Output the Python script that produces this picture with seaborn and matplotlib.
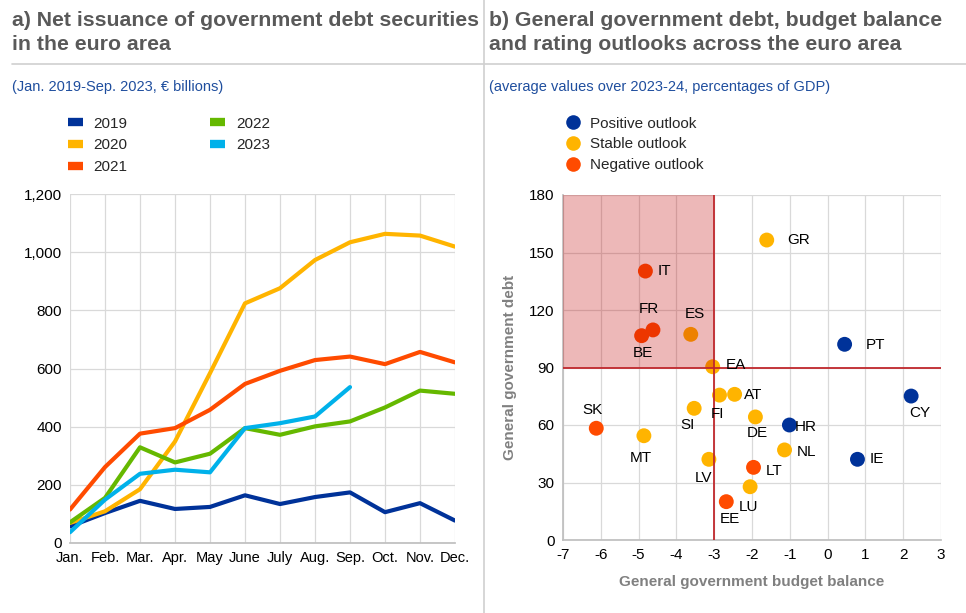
import matplotlib
matplotlib.use('Agg')
import matplotlib.pyplot as plt
import matplotlib.ticker as mticker
from matplotlib.lines import Line2D
import seaborn as sns
import pandas as pd

# --- Panel a data: net issuance, EUR billions ---
months = ['Jan.', 'Feb.', 'Mar.', 'Apr.', 'May', 'June', 'July', 'Aug.', 'Sep.', 'Oct.', 'Nov.', 'Dec.']
issuance_2019 = [57, 103, 145, 117, 124, 164, 134, 158, 174, 106, 137, 77]
issuance_2020 = [69, 109, 185, 349, 584, 824, 876, 973, 1034, 1063, 1057, 1019]
issuance_2021 = [115, 261, 376, 395, 458, 547, 592, 629, 641, 615, 657, 621]
issuance_2022 = [71, 155, 329, 277, 307, 395, 372, 401, 418, 466, 524, 513]
issuance_2023 = [37, 149, 238, 252, 243, 395, 412, 435, 536]

# --- Panel b data: budget balance vs debt, % of GDP ---
countries = ['GR', 'IT', 'FR', 'BE', 'ES', 'EA', 'PT', 'CY', 'HR', 'IE', 'SK',
             'MT', 'SI', 'FI', 'AT', 'DE', 'NL', 'LV', 'LT', 'LU', 'EE']
balance = [-1.61, -4.82, -4.62, -4.92, -3.62, -3.04, 0.45, 2.21, -1.01, 0.79, -6.12,
           -4.86, -3.53, -2.86, -2.46, -1.91, -1.14, -3.14, -1.96, -2.05, -2.68]
debt = [156.5, 140.3, 109.6, 106.6, 107.3, 90.4, 102.1, 75.1, 60.0, 42.1, 58.3,
        54.4, 68.7, 75.6, 76.0, 64.2, 47.0, 42.1, 37.9, 27.8, 20.0]
outlook = ['Stable', 'Negative', 'Negative', 'Negative', 'Stable', 'Stable', 'Positive',
           'Positive', 'Positive', 'Positive', 'Negative', 'Stable', 'Stable', 'Stable',
           'Stable', 'Stable', 'Stable', 'Stable', 'Negative', 'Stable', 'Negative']
# label centre offsets from the dot, in pixels (x right, y up)
label_offsets = {
    'GR': (32, 0), 'IT': (19, 0), 'FR': (-4, 21), 'BE': (1, -17), 'ES': (4, 20),
    'EA': (23, 2), 'PT': (31, -1), 'CY': (9, -17), 'HR': (16, -2), 'IE': (19, 0),
    'SK': (-4, 18), 'MT': (-3, -22), 'SI': (-7, -17), 'FI': (-2, -19), 'AT': (19, -1),
    'DE': (2, -16), 'NL': (22, -2), 'LV': (-5, -19), 'LT': (21, -4), 'LU': (-2, -20),
    'EE': (4, -17),
}

year_colors = {'2019': '#003299', '2020': '#FFB400', '2021': '#FF4B00',
               '2022': '#65B800', '2023': '#00B1EA'}
outlook_colors = {'Positive': '#003299', 'Stable': '#FFB400', 'Negative': '#FF4B00'}

sns.set_theme(style='white')
plt.rcParams['font.family'] = ['Liberation Sans', 'DejaVu Sans']
plt.rcParams['axes.unicode_minus'] = False

rows = []
for year, vals in zip(year_colors, [issuance_2019, issuance_2020, issuance_2021,
                                    issuance_2022, issuance_2023]):
    for i, v in enumerate(vals):
        rows.append({'month': i, 'value': v, 'year': year})
df_a = pd.DataFrame(rows)
df_b = pd.DataFrame({'country': countries, 'balance': balance, 'debt': debt, 'outlook': outlook})

fig = plt.figure(figsize=(9.66, 6.13), dpi=100)

title_color = '#595959'
sub_color = '#1F4E9E'
grid_color = '#D9D9D9'

# headers
fig.text(12 / 966, 1 - 11 / 613, 'a) Net issuance of government debt securities\nin the euro area',
         ha='left', va='top', fontsize=15.3, fontweight='bold', color=title_color, linespacing=1.35)
fig.text(489 / 966, 1 - 11 / 613, 'b) General government debt, budget balance\nand rating outlooks across the euro area',
         ha='left', va='top', fontsize=15.3, fontweight='bold', color=title_color, linespacing=1.35)
fig.text(12 / 966, 1 - 87 / 613, '(Jan. 2019-Sep. 2023, € billions)', ha='left', va='center',
         fontsize=10.5, color=sub_color)
fig.text(489 / 966, 1 - 87 / 613, '(average values over 2023-24, percentages of GDP)', ha='left',
         va='center', fontsize=10.5, color=sub_color)
fig.add_artist(Line2D([12 / 966, 1], [1 - 64 / 613] * 2, color='#D0D0D0', lw=1.2))
fig.add_artist(Line2D([484 / 966] * 2, [0, 1], color='#D0D0D0', lw=1.2))

# --- Panel a ---
ax1 = fig.add_axes([70 / 966, 1 - 543 / 613, 385 / 966, 349 / 613])
sns.lineplot(data=df_a, x='month', y='value', hue='year', palette=year_colors,
             linewidth=3.0, ax=ax1, legend=False)
ax1.set_xlim(0, 11)
ax1.set_ylim(0, 1200)
ax1.set_xticks(range(12))
ax1.set_xticklabels(months)
ax1.set_yticks(range(0, 1201, 200))
ax1.yaxis.set_major_formatter(mticker.FuncFormatter(lambda v, p: f'{int(v):,}'))
ax1.grid(True, color=grid_color, lw=0.9)
ax1.set_xlabel('')
ax1.set_ylabel('')
for s in ax1.spines.values():
    s.set_visible(False)
ax1.spines['bottom'].set_visible(True)
ax1.spines['bottom'].set_color('#BFBFBF')
ax1.tick_params(axis='both', labelsize=11, colors='black', length=0, pad=6)
ax1.tick_params(axis='x', labelsize=10.5)

handles_a = [Line2D([0], [0], color=c, lw=6, solid_capstyle='butt') for c in year_colors.values()]
fig.legend(handles_a, list(year_colors), loc='upper left', ncol=2,
           bbox_to_anchor=(63 / 966, 1 - 112 / 613), frameon=False, fontsize=11,
           handlelength=1.0, handletextpad=0.7, columnspacing=5.4, labelspacing=0.5,
           borderaxespad=0, borderpad=0.3)

# --- Panel b ---
ax2 = fig.add_axes([563 / 966, 1 - 540 / 613, 378 / 966, 345 / 613])
sns.scatterplot(data=df_b, x='balance', y='debt', hue='outlook', palette=outlook_colors,
                s=115, edgecolor='none', ax=ax2, legend=False, zorder=3)
ax2.axvspan(-7, -3, ymin=0.5, ymax=1, color='#C00000', alpha=0.28, lw=0, zorder=4)
ax2.axvline(-3, color='#C0282D', lw=1.3, zorder=5)
ax2.axhline(90, color='#C0282D', lw=1.3, zorder=5)
for c, x, y in zip(countries, balance, debt):
    dx, dy = label_offsets[c]
    ax2.annotate(c, (x, y), xytext=(dx * 0.72, dy * 0.72), textcoords='offset points',
                 fontsize=11, color='black', va='center', ha='center', zorder=6)
ax2.set_xlim(-7, 3)
ax2.set_ylim(0, 180)
ax2.set_xticks(range(-7, 4))
ax2.set_yticks(range(0, 181, 30))
ax2.grid(True, color=grid_color, lw=0.9)
for s in ax2.spines.values():
    s.set_visible(False)
ax2.spines['bottom'].set_visible(True)
ax2.spines['bottom'].set_color('#BFBFBF')
ax2.spines['left'].set_visible(True)
ax2.spines['left'].set_color('#BFBFBF')
ax2.tick_params(axis='both', labelsize=11, colors='black', length=0, pad=6)
ax2.set_xlabel('General government budget balance', fontsize=11, fontweight='bold',
               color='#808080', labelpad=9)
ax2.set_ylabel('General government debt', fontsize=11, fontweight='bold',
               color='#808080', labelpad=9)

handles_b = [Line2D([0], [0], marker='o', color='none', markerfacecolor=c,
                    markeredgecolor='none', markersize=10.5) for c in outlook_colors.values()]
fig.legend(handles_b, ['Positive outlook', 'Stable outlook', 'Negative outlook'],
           loc='upper left', bbox_to_anchor=(561 / 966, 1 - 112 / 613), frameon=False,
           fontsize=11, handlelength=1.0, handletextpad=0.6, labelspacing=0.45,
           borderaxespad=0, borderpad=0.3)

fig.savefig('out.png', dpi=100)
